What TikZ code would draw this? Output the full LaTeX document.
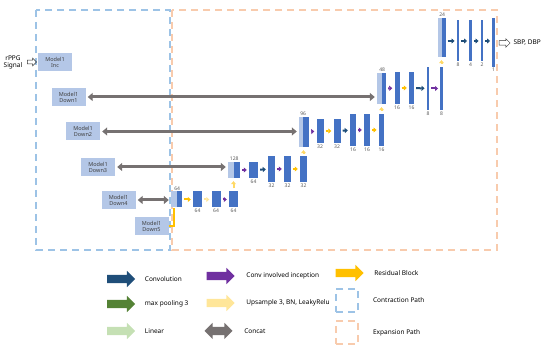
\documentclass[tikz,border=0pt]{standalone}
\usepackage{fontspec}
\setmainfont{Noto Sans}
\usetikzlibrary{arrows.meta,positioning,shapes.arrows}
\definecolor{mapBlue}{HTML}{4472C4}
\definecolor{skipBlue}{HTML}{B4C7E7}
\definecolor{convBlue}{HTML}{1F4E79}
\definecolor{poolGreen}{HTML}{548235}
\definecolor{linGreen}{HTML}{C5E0B4}
\definecolor{incPurple}{HTML}{7030A0}
\definecolor{upYellow}{HTML}{FFE699}
\definecolor{resGold}{HTML}{FFC000}
\definecolor{liftYellow}{HTML}{FFD966}
\definecolor{catGray}{HTML}{767171}
\definecolor{pathBlue}{HTML}{9DC3E6}
\definecolor{pathOrange}{HTML}{F8CBAD}
\definecolor{boxText}{HTML}{404040}
\tikzset{
  fmap/.style 2 args={fill=mapBlue, inner sep=0pt, minimum width=#1pt, minimum height=#2pt},
  skipmap/.style 2 args={fill=skipBlue, inner sep=0pt, minimum width=#1pt, minimum height=#2pt},
  mbox/.style={fill=skipBlue, minimum width=34pt, minimum height=18pt, inner sep=0pt,
    align=center, font=\fontsize{5.5}{6}\selectfont, text=boxText},
  num/.style={font=\fontsize{5}{5}\selectfont, text=black!65, inner sep=1pt},
  mv/.style={-{Triangle[length=3pt,width=5pt]}, line width=2pt, draw=#1,
    shorten <=2pt, shorten >=2pt},
  lift/.style={-{Triangle[length=3pt,width=5pt]}, line width=2pt, draw=liftYellow,
    shorten <=3pt, shorten >=3pt},
  cat/.style={{Triangle[length=5pt,width=8pt]}-{Triangle[length=5pt,width=8pt]},
    line width=3pt, draw=catGray, shorten <=2pt, shorten >=2pt},
  key/.style={single arrow, fill=#1, minimum height=28pt, inner xsep=0pt,
    inner ysep=4pt, single arrow head extend=4pt},
  keytext/.style={font=\fontsize{6.5}{7}\selectfont\bfseries},
  hollow/.style={single arrow, draw=black!80, line width=0.5pt, inner xsep=0pt,
    single arrow head extend=2pt},
  pathframe/.style={draw=#1, line width=1.2pt, dash pattern=on 7pt off 5pt}
}
\begin{document}
\begin{tikzpicture}[x=1pt,y=-1pt]
  \useasboundingbox (0,0) rectangle (550,352);

  % contraction / expansion frames
  \draw[pathframe=pathOrange] (172,10) rectangle (497,250);
  \draw[pathframe=pathBlue] (36,10) rectangle (170,250);

  % input side
  \node[keytext, align=center] (sig) at (13,62) {rPPG\\Signal};
  \node[hollow, minimum height=9pt, inner ysep=1.6pt] (inArr) at (31,62) {};
  \node[mbox] (inc) at (55,62) {Model1\\Inc};
  \node[mbox] (d1) at (68.5,97) {Model1\\Down1};
  \node[mbox] (d2) at (83,131.5) {Model1\\Down2};
  \node[mbox] (d3) at (98,167) {Model1\\Down3};
  \node[mbox] (d4) at (118.5,200) {Model1\\Down4};
  \node[mbox] (d5) at (151.5,226.5) {Model1\\Down5};

  % stage 5
  \node[skipmap={6}{16}] (s5l) at (174,199.5) {};
  \node[fmap={5}{16}] (s5a) at (179.5,199.5) {};
  \node[fmap={9}{16}] (s5b) at (197.5,199.5) {};
  \node[fmap={9}{16}] (s5c) at (216,199.5) {};
  \node[fmap={9}{16}] (s5d) at (233.5,199.5) {};
  \node[num, above=0pt of s5l.north east] (n5a) {64};
  \node[num, below=0pt of s5b] (n5b) {64};
  \node[num, below=0pt of s5c] (n5c) {64};
  \node[num, below=0pt of s5d] (n5d) {64};
  \draw[mv=resGold] (s5a) -- (s5b);
  \draw[mv=upYellow] (s5b) -- (s5c);
  \draw[mv=incPurple] (s5c) -- (s5d);

  % stage 4
  \node[skipmap={6}{16}] (s4l) at (231,170) {};
  \node[fmap={6}{16}] (s4a) at (237,170) {};
  \node[fmap={9}{16}] (s4b) at (253.5,170) {};
  \node[fmap={7}{26}] (s4c) at (271.5,169) {};
  \node[fmap={7}{26}] (s4d) at (287.5,169) {};
  \node[fmap={7}{26}] (s4e) at (303.5,169) {};
  \node[num, above=0pt of s4l.north east] (n4a) {128};
  \node[num, below=0pt of s4b] (n4b) {64};
  \node[num, below=0pt of s4c] (n4c) {32};
  \node[num, below=0pt of s4d] (n4d) {32};
  \node[num, below=0pt of s4e] (n4e) {32};
  \draw[mv=incPurple] (s4a) -- (s4b);
  \draw[mv=convBlue] (s4b) -- (s4c);
  \draw[mv=incPurple] (s4c) -- (s4d);
  \draw[mv=resGold] (s4d) -- (s4e);

  % stage 3
  \node[skipmap={4}{30}] (s3l) at (301,132) {};
  \node[fmap={6}{30}] (s3a) at (306,132) {};
  \node[fmap={7}{24}] (s3b) at (320,131) {};
  \node[fmap={7}{24}] (s3c) at (337,131) {};
  \node[fmap={6}{32}] (s3d) at (353,130) {};
  \node[fmap={6}{32}] (s3e) at (367,130) {};
  \node[fmap={5.5}{32}] (s3f) at (381.5,130) {};
  \node[num, above=0pt of s3l.north east] (n3a) {96};
  \node[num, below=0pt of s3b] (n3b) {32};
  \node[num, below=0pt of s3c] (n3c) {32};
  \node[num, below=0pt of s3d] (n3d) {16};
  \node[num, below=0pt of s3e] (n3e) {16};
  \node[num, below=0pt of s3f] (n3f) {16};
  \draw[mv=incPurple] (s3a) -- (s3b);
  \draw[mv=resGold] (s3b) -- (s3c);
  \draw[mv=convBlue] (s3c) -- (s3d);
  \draw[mv=incPurple] (s3d) -- (s3e);
  \draw[mv=resGold] (s3e) -- (s3f);

  % stage 2
  \node[skipmap={5}{31}] (s2l) at (379.5,88.5) {};
  \node[fmap={4}{31}] (s2a) at (384,88.5) {};
  \node[fmap={5}{32}] (s2b) at (397,88) {};
  \node[fmap={5}{32}] (s2c) at (411.5,88) {};
  \node[fmap={2.5}{43}] (s2d) at (428,88.5) {};
  \node[fmap={2.5}{43}] (s2e) at (441.5,88.5) {};
  \node[num, above=0pt of s2l.north east] (n2a) {48};
  \node[num, below=0pt of s2b] (n2b) {16};
  \node[num, below=0pt of s2c] (n2c) {16};
  \node[num, below=0pt of s2d] (n2d) {8};
  \node[num, below=0pt of s2e] (n2e) {8};
  \draw[mv=incPurple] (s2a) -- (s2b);
  \draw[mv=resGold] (s2b) -- (s2c);
  \draw[mv=convBlue] (s2c) -- (s2d);
  \draw[mv=incPurple] (s2d) -- (s2e);

  % stage 1
  \node[skipmap={4}{39}] (s1l) at (440,37.5) {};
  \node[fmap={3.5}{39}] (s1a) at (443.75,37.5) {};
  \node[num, above=0pt of s1l.north east] (n1a) {24};
  \foreach \nm/\x/\y/\h/\lab in {s1b/458/41/41/8, s1c/470.5/41/41/4, s1d/482/41/41/2, s1e/493.5/42.5/49/1}{
    \node[fmap={2.5}{\h}] (\nm) at (\x,\y) {};
    \node[num, below=0pt of \nm] (n\nm) {\lab};
  }
  \foreach \a/\b in {s1a/s1b, s1b/s1c, s1c/s1d, s1d/s1e}
    \draw[mv=convBlue] (\a.east |- s1b.west) -- (\b.west |- s1b.west);
  \node[hollow, minimum height=11pt, inner ysep=2pt] (outArr) at (503.5,43) {};
  \node[keytext, anchor=west] (out) at (510,43) {SBP, DBP};

  % skip connections
  \draw[cat] (d1.east) -- (d1.east -| s2l.west);
  \draw[cat] (d2.east) -- (d2.east -| s3l.west);
  \draw[cat] (d3.east) -- (d3.east -| s4l.west);
  \draw[cat] (d4.east) -- (d4.east -| s5l.west);
  \draw[resGold, line width=2pt] (d5.east) -| (s5l.south);

  % upsampling between stages
  \draw[lift] (s5d.north) -- (s5d.north |- s4l.south);
  \draw[lift] (s4e.north) -- (s4e.north |- s3l.south);
  \draw[lift] (s3f.north) -- (s3f.north |- s2l.south);
  \draw[lift] (s2e.north) -- (s2e.north |- s1l.south);

  % legend
  \node[key=convBlue] (lgConv) at (119,279) {};
  \node[key=poolGreen] (lgPool) at (119,304) {};
  \node[key=linGreen] (lgLin) at (119,331) {};
  \node[key=incPurple] (lgInc) at (218.5,276) {};
  \node[key=upYellow] (lgUp) at (218.5,303) {};
  \node[double arrow, fill=catGray, minimum height=28pt, inner xsep=0pt, inner ysep=4pt,
    double arrow head extend=4pt] (lgCat) at (218.5,331) {};
  \node[key=resGold] (lgRes) at (347.5,273) {};
  \node[pathframe=pathBlue, minimum width=22pt, minimum height=23pt] (lgContr) at (347,300.5) {};
  \node[pathframe=pathOrange, minimum width=22pt, minimum height=23pt] (lgExp) at (347,332.5) {};
  \node[keytext, right=6pt of lgConv] (tConv) {Convolution};
  \node[keytext, right=6pt of lgPool] (tPool) {max pooling 3};
  \node[keytext, right=6pt of lgLin] (tLin) {Linear};
  \node[keytext, right=8pt of lgInc] (tInc) {Conv involved inception};
  \node[keytext, right=8pt of lgUp] (tUp) {Upsample 3, BN, LeakyRelu};
  \node[keytext, right=8pt of lgCat] (tCat) {Concat};
  \node[keytext, right=7pt of lgRes] (tRes) {Residual Block};
  \node[keytext, right=11pt of lgContr] (tContr) {Contraction Path};
  \node[keytext, right=11pt of lgExp] (tExp) {Expansion Path};
\end{tikzpicture}
\end{document}
